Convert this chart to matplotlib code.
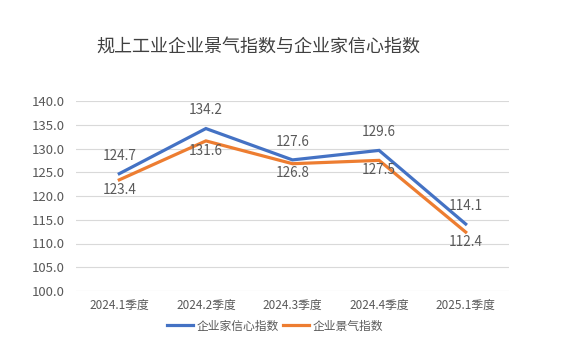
import matplotlib
matplotlib.use("Agg")
import matplotlib.pyplot as plt
from matplotlib.lines import Line2D

plt.rcParams['font.family'] = ['Noto Sans CJK SC', 'DejaVu Sans']

categories = ["2024.1季度", "2024.2季度", "2024.3季度", "2024.4季度", "2025.1季度"]
confidence = [124.7, 134.2, 127.6, 129.6, 114.1]
climate = [123.4, 131.6, 126.8, 127.5, 112.4]
yticks = [100.0, 105.0, 110.0, 115.0, 120.0, 125.0, 130.0, 135.0, 140.0]

blue = "#4472C4"
orange = "#ED7D31"
txt = "#595959"

fig = plt.figure(figsize=(5.64, 3.63), dpi=100)
ax = fig.add_axes([76/564, 1-291/363, (509-76)/564, (291-101)/363])

x = list(range(len(categories)))
ax.plot(x, confidence, color=blue, lw=2.3, solid_joinstyle='miter', zorder=3)
ax.plot(x, climate, color=orange, lw=2.3, solid_joinstyle='miter', zorder=2)

for xi, v in zip(x, confidence):
    ax.annotate(f"{v:.1f}", (xi, v), xytext=(0, 13), textcoords='offset points',
                ha='center', va='center', fontsize=9.8, color=txt, zorder=5)
for xi, v in zip(x, climate):
    ax.annotate(f"{v:.1f}", (xi, v), xytext=(0, -7), textcoords='offset points',
                ha='center', va='center', fontsize=9.8, color=txt, zorder=5)

ax.set_xlim(-0.5, len(categories) - 0.5)
ax.set_ylim(100, 140)
ax.set_yticks(yticks)
ax.set_yticklabels([f"{t:.1f}" for t in yticks])
ax.set_xticks(x)
ax.set_xticklabels(categories)
ax.tick_params(axis='y', length=0, labelsize=9.5, labelcolor=txt, pad=8)
ax.tick_params(axis='x', length=0, labelsize=8.5, labelcolor=txt, pad=6)
ax.grid(axis='y', color='#D9D9D9', lw=0.8)
ax.set_axisbelow(True)
for s in ax.spines.values():
    s.set_visible(False)

fig.text(258/564, 1-47/363, "规上工业企业景气指数与企业家信心指数", ha='center', va='center',
         fontsize=13, color='#404040')

handles = [Line2D([], [], color=blue, lw=2.3), Line2D([], [], color=orange, lw=2.3)]
fig.legend(handles, ["企业家信心指数", "企业景气指数"], loc='center', bbox_to_anchor=(275/564, 1-326/363),
           ncol=2, frameon=False, fontsize=8.5, labelcolor=txt, handlelength=2.2,
           handletextpad=0.3, columnspacing=0.4)

fig.savefig("out.png", dpi=100)
